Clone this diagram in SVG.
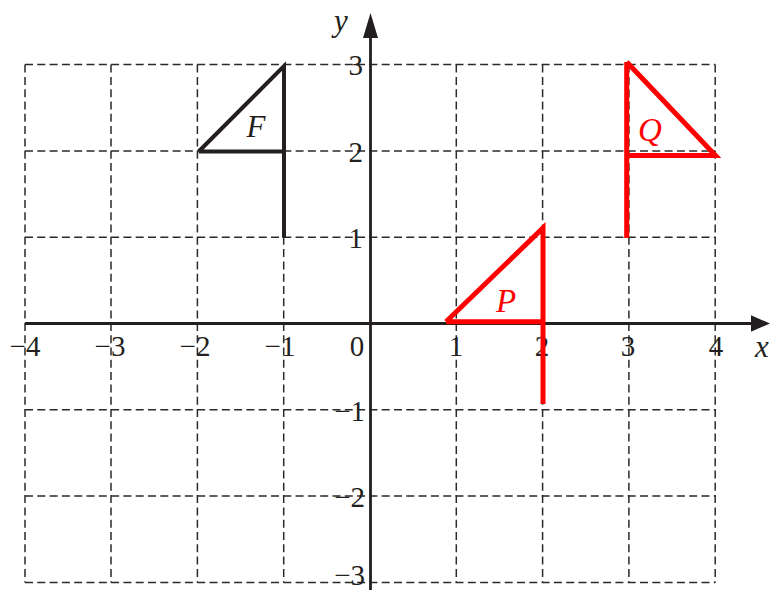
<svg xmlns="http://www.w3.org/2000/svg" width="770" height="592" viewBox="0 0 770 592">
<style>
.grid{stroke:#2a2a2a;stroke-width:1.5;stroke-dasharray:8 4.3;fill:none}
.axis{stroke:#231f20;stroke-width:2.8;fill:none}
.num{font-family:"Liberation Serif","Times New Roman",serif;font-size:29px;fill:#231f20}
.var{font-family:"Liberation Serif","Times New Roman",serif;font-style:italic;font-size:31px;fill:#231f20}
.blk{stroke:#231f20;stroke-width:4;fill:none;stroke-linejoin:miter}
.red{stroke:#ff0000;stroke-width:5;fill:none;stroke-linejoin:miter}
.redt{font-family:"Liberation Serif","Times New Roman",serif;font-style:italic;font-size:33px;fill:#ff0000}
</style>
<rect width="770" height="592" fill="#fff"/>
<g id="grid">
<path class="grid" d="M25,64.6H715.2M25,151H715.2M25,237.2H715.2M25,409.8H715.2M25,496H715.2M25,582.4H715.2"/>
<path class="grid" d="M25,64.6V582.4M111,64.6V582.4M197.4,64.6V582.4M283.7,64.6V582.4M456.3,64.6V582.4M542.6,64.6V582.4M628.9,64.6V582.4M715.2,64.6V582.4"/>
</g>
<g id="axes">
<path class="axis" d="M25,323.5H755M370.5,590V33"/>
<polygon points="770,323.5 751,315.3 751,331.7" fill="#231f20"/>
<polygon points="370.5,13 363,38 378,38" fill="#231f20"/>
</g>
<g id="labels">
<g class="num" text-anchor="middle">
<text x="25" y="356">−4</text>
<text x="110" y="356">−3</text>
<text x="195" y="356">−2</text>
<text x="280" y="356">−1</text>
<text x="357" y="356">0</text>
<text x="456" y="356">1</text>
<text x="542" y="356">2</text>
<text x="628" y="356">3</text>
<text x="716" y="356">4</text>
</g>
<g class="num" text-anchor="end">
<text x="363" y="75">3</text>
<text x="363" y="162">2</text>
<text x="363" y="248">1</text>
<text x="365" y="421">−1</text>
<text x="365" y="507">−2</text>
<text x="365" y="585">−3</text>
</g>
<text class="var" x="334" y="31">y</text>
<text class="var" x="755" y="357">x</text>
</g>
<g id="F">
<path class="blk" d="M198.7,151.5L284,66V237.7M198.7,151.5H284"/>
<text class="var" x="256" y="137" text-anchor="middle">F</text>
</g>
<g id="P">
<path class="red" d="M446,321.7L543,228V404M446,321.7H543"/>
<text class="redt" x="506" y="312" text-anchor="middle">P</text>
</g>
<g id="Q">
<path class="red" d="M626.7,62L715.5,155.5H626.7M626.7,62V238"/>
<text class="redt" x="650" y="141" text-anchor="middle">Q</text>
</g>
</svg>
